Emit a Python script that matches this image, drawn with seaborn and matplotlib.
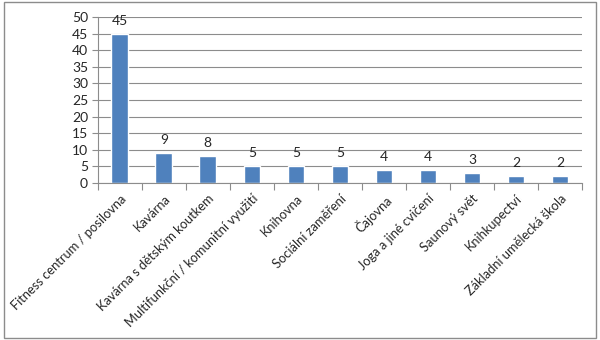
import matplotlib
matplotlib.use("Agg")
import matplotlib.pyplot as plt
import seaborn as sns
import pandas as pd
from matplotlib.patches import Rectangle
from matplotlib.ticker import FixedLocator

categories = [
    "Fitness centrum / posilovna",
    "Kavárna",
    "Kavárna s dětským koutkem",
    "Multifunkční / komunitní využití",
    "Knihovna",
    "Sociální zaměření",
    "Čajovna",
    "Joga a jiné cvičení",
    "Saunový svět",
    "Knihkupectví",
    "Základní umělecká škola",
]
values = [45, 9, 8, 5, 5, 5, 4, 4, 3, 2, 2]
y_ticks = [0, 5, 10, 15, 20, 25, 30, 35, 40, 45, 50]

df = pd.DataFrame({"kategorie": categories, "pocet": values})

sns.set_theme(style="white")
plt.rcParams["font.family"] = ["Lato", "DejaVu Sans"]

fig = plt.figure(figsize=(6, 3.4), dpi=100)
ax = fig.add_axes([0.163, 0.462, 0.807, 0.488])

sns.barplot(data=df, x="kategorie", y="pocet", color="#4F81BD",
            saturation=1, width=0.38, ax=ax)

ax.set_ylim(0, 50)
ax.set_xlim(-0.5, len(categories) - 0.5)
ax.set_yticks(y_ticks)
ax.yaxis.grid(True, color="#8C8C8C", linewidth=0.8)
ax.set_axisbelow(True)
ax.set_xlabel("")
ax.set_ylabel("")

for side in ["top", "right"]:
    ax.spines[side].set_visible(False)
for side in ["left", "bottom"]:
    ax.spines[side].set_color("#8C8C8C")
    ax.spines[side].set_linewidth(0.8)

# tick marks between categories, labels centred under bars
ax.xaxis.set_minor_locator(FixedLocator([i - 0.5 for i in range(len(categories) + 1)]))
ax.tick_params(axis="x", which="minor", length=5, color="#8C8C8C", width=0.8, bottom=True)
ax.tick_params(axis="x", which="major", length=0, pad=7)
ax.tick_params(axis="y", length=4, color="#8C8C8C", width=0.8, left=True, labelsize=10, pad=3)
ax.set_xticks(range(len(categories)))
ax.set_xticklabels(categories, rotation=45, ha="right", rotation_mode="anchor", fontsize=9.3)

for i, v in enumerate(values):
    ax.annotate(str(v), (i, v), xytext=(0, 5), textcoords="offset points",
                ha="center", va="bottom", fontsize=10)

fig.patches.append(Rectangle((0.006, 0.006), 0.988, 0.988, transform=fig.transFigure,
                             fill=False, edgecolor="#8C8C8C", linewidth=1))

fig.savefig("out.png", dpi=100)
